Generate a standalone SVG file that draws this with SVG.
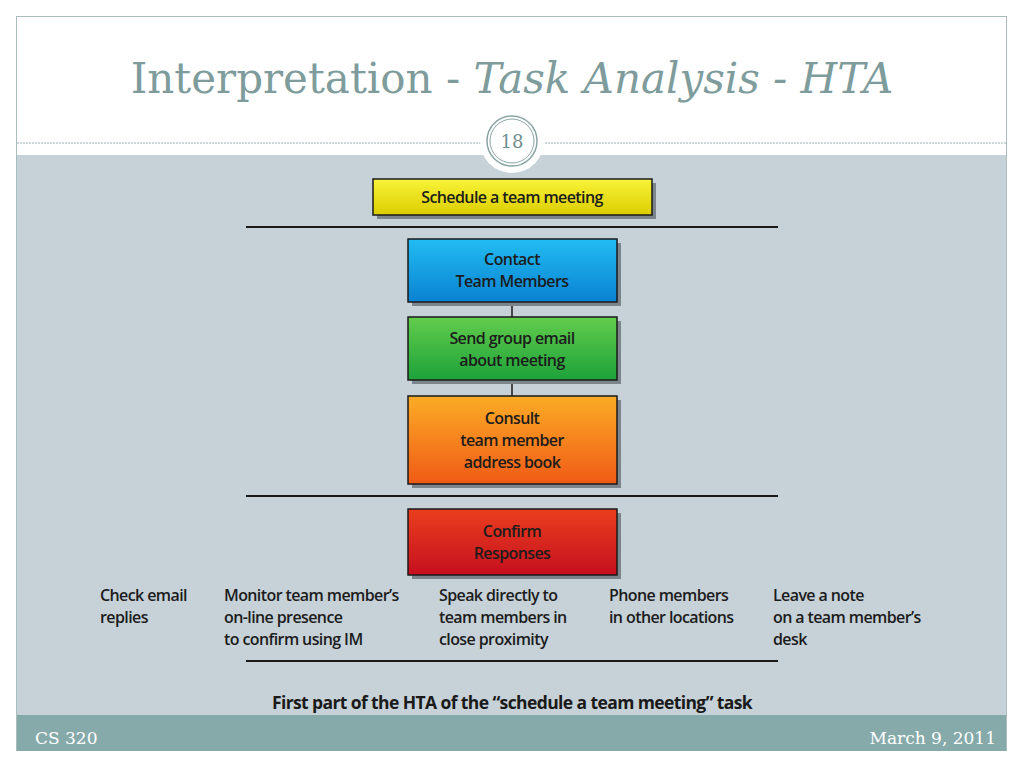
<svg xmlns="http://www.w3.org/2000/svg" width="1024" height="768" viewBox="0 0 1024 768">
<defs>
<linearGradient id="gY" x1="0" y1="0" x2="0" y2="1"><stop offset="0" stop-color="#F8F43A"/><stop offset="1" stop-color="#DCCD00"/></linearGradient>
<linearGradient id="gB" x1="0" y1="0" x2="0" y2="1"><stop offset="0" stop-color="#22BCF2"/><stop offset="1" stop-color="#0A82D2"/></linearGradient>
<linearGradient id="gG" x1="0" y1="0" x2="0" y2="1"><stop offset="0" stop-color="#62CC4C"/><stop offset="1" stop-color="#1DA23A"/></linearGradient>
<linearGradient id="gO" x1="0" y1="0" x2="0" y2="1"><stop offset="0" stop-color="#FBAC26"/><stop offset="1" stop-color="#F05A16"/></linearGradient>
<linearGradient id="gR" x1="0" y1="0" x2="0" y2="1"><stop offset="0" stop-color="#EA3E1E"/><stop offset="1" stop-color="#C6101F"/></linearGradient>
</defs>
<style>
.title{font-family:"DejaVu Serif","Liberation Serif",serif;font-size:42px;fill:#7E9C9C}
.box{stroke:#1a1a1a;stroke-width:1.5}
.shadow{fill:#7C858C}
.bt{font-family:"Open Sans","Noto Sans",sans-serif;font-weight:600;font-size:16px;fill:#1c1c1c;text-anchor:middle;letter-spacing:-0.6px}
.lt{font-family:"Open Sans","Noto Sans",sans-serif;font-weight:600;font-size:16px;fill:#1c1c1c;letter-spacing:-0.6px}
.rule{stroke:#1a1a1a;stroke-width:2}
.conn{stroke:#1a1a1a;stroke-width:1.5}
.foot{font-family:"DejaVu Serif","Liberation Serif",serif;font-size:17px;fill:#ffffff}
</style>
<rect x="0" y="0" width="1024" height="768" fill="#ffffff"/>
<!-- slide frame -->
<rect x="16.5" y="16.5" width="990" height="734" fill="#ffffff" stroke="#A9BDBD" stroke-width="1"/>
<rect x="17" y="155" width="989" height="560" fill="#C6D1D8"/>
<rect x="17" y="715" width="989" height="36" fill="#86AAAA"/>
<line x1="17" y1="143" x2="1006" y2="143" stroke="#9AB0B0" stroke-width="1" stroke-dasharray="2,1"/>
<!-- slide number -->
<circle cx="512" cy="141" r="32" fill="#ffffff"/>
<circle cx="512" cy="141" r="25" fill="#ffffff" stroke="#8AA4A4" stroke-width="1.5"/>
<circle cx="512" cy="141" r="22" fill="none" stroke="#8AA4A4" stroke-width="1"/>
<text x="512" y="148" text-anchor="middle" style="font-family:'DejaVu Serif','Liberation Serif',serif;font-size:18px;fill:#6E8E8E">18</text>
<!-- title -->
<text class="title" x="512" y="93" text-anchor="middle">Interpretation - <tspan font-style="italic">Task Analysis - HTA</tspan></text>
<!-- connectors -->
<g id="connectors">
<line class="rule" x1="246" y1="227" x2="778" y2="227"/>
<line class="conn" x1="512" y1="302" x2="512" y2="317"/>
<line class="conn" x1="512" y1="380" x2="512" y2="396"/>
<line class="rule" x1="246" y1="496" x2="778" y2="496"/>
<line class="rule" x1="246" y1="661" x2="778" y2="661"/>
</g>
<g id="n-schedule">
<rect class="shadow" x="377" y="183" width="279" height="36"/>
<rect class="box" x="373" y="179" width="279" height="36" fill="url(#gY)"/>
<text class="bt" x="512" y="203">Schedule a team meeting</text>
</g>
<g id="n-contact">
<rect class="shadow" x="412" y="243" width="209" height="63"/>
<rect class="box" x="408" y="239" width="209" height="63" fill="url(#gB)"/>
<text class="bt" x="512" y="265">Contact</text>
<text class="bt" x="512" y="287">Team Members</text>
</g>
<g id="n-send">
<rect class="shadow" x="412" y="321" width="209" height="63"/>
<rect class="box" x="408" y="317" width="209" height="63" fill="url(#gG)"/>
<text class="bt" x="512" y="344">Send group email</text>
<text class="bt" x="512" y="366">about meeting</text>
</g>
<g id="n-consult">
<rect class="shadow" x="412" y="400" width="209" height="88"/>
<rect class="box" x="408" y="396" width="209" height="88" fill="url(#gO)"/>
<text class="bt" x="512" y="424">Consult</text>
<text class="bt" x="512" y="446">team member</text>
<text class="bt" x="512" y="468">address book</text>
</g>
<g id="n-confirm">
<rect class="shadow" x="412" y="513" width="209" height="66"/>
<rect class="box" x="408" y="509" width="209" height="66" fill="url(#gR)"/>
<text class="bt" x="512" y="537">Confirm</text>
<text class="bt" x="512" y="559">Responses</text>
</g>
<g id="n-check"><text class="lt" x="100" y="601">Check email</text><text class="lt" x="100" y="623">replies</text></g>
<g id="n-monitor"><text class="lt" x="224" y="601">Monitor team member’s</text><text class="lt" x="224" y="623">on-line presence</text><text class="lt" x="224" y="645">to confirm using IM</text></g>
<g id="n-speak"><text class="lt" x="439" y="601">Speak directly to</text><text class="lt" x="439" y="623">team members in</text><text class="lt" x="439" y="645">close proximity</text></g>
<g id="n-phone"><text class="lt" x="609" y="601">Phone members</text><text class="lt" x="609" y="623">in other locations</text></g>
<g id="n-leave"><text class="lt" x="773" y="601">Leave a note</text><text class="lt" x="773" y="623">on a team member’s</text><text class="lt" x="773" y="645">desk</text></g>
<text x="512" y="709" text-anchor="middle" style="font-family:'Open Sans','Noto Sans',sans-serif;font-weight:700;font-size:17.5px;fill:#1a1a1a;letter-spacing:-0.6px">First part of the HTA of the “schedule a team meeting” task</text>
<text class="foot" x="35" y="744">CS 320</text>
<text class="foot" x="996" y="744" text-anchor="end">March 9, 2011</text>
</svg>
